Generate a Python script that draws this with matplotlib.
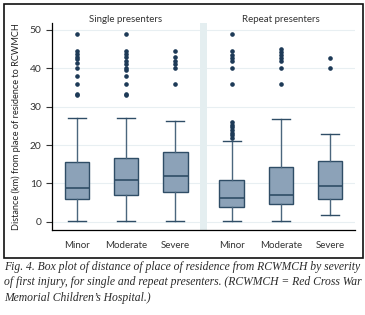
import matplotlib.pyplot as plt
from matplotlib.patches import Rectangle

# severity groups, single presenters then repeat presenters
labels = ['Minor', 'Moderate', 'Severe', 'Minor', 'Moderate', 'Severe']
q1 = [5.9, 7.0, 7.8, 4.0, 4.7, 5.9]
med = [8.9, 10.9, 11.9, 6.1, 7.0, 9.3]
q3 = [15.6, 16.7, 18.1, 10.9, 14.3, 15.9]
whislo = [0.3, 0.3, 0.3, 0.3, 0.3, 1.7]
whishi = [27.0, 27.0, 26.2, 21.0, 26.9, 22.9]
fliers = [
    [33.0, 33.3, 36.0, 38.0, 40.0, 41.5, 42.3, 43.0, 43.8, 44.6, 48.9],
    [33.0, 33.3, 36.0, 38.0, 39.5, 40.2, 41.0, 42.0, 43.0, 43.8, 44.6, 48.9],
    [36.0, 40.0, 41.0, 42.0, 43.0, 44.6],
    [21.8, 22.5, 23.2, 23.9, 24.6, 25.3, 26.0,
     36.0, 40.0, 42.0, 42.8, 43.5, 44.6, 48.9],
    [36.0, 40.0, 42.0, 42.8, 43.5, 44.3, 45.0],
    [40.0, 42.6],
]
panel_titles = ['Single presenters', 'Repeat presenters']

pos = [1, 2, 3, 4.15, 5.15, 6.15]

stats = []
for i in range(len(labels)):
    stats.append(dict(label=labels[i], q1=q1[i], med=med[i], q3=q3[i],
                      whislo=whislo[i], whishi=whishi[i], fliers=fliers[i]))

fig = plt.figure(figsize=(3.65, 3.15), dpi=100)
ax = fig.add_axes([0.1425, 0.27, 0.83, 0.657])

for y in range(0, 51, 10):
    ax.axhline(y, color='#e8eff2', lw=0.8, zorder=0)
ax.axvspan(3.51, 3.64, color='#e4eef0', lw=0, zorder=0.5)

boxc = '#8ca2b8'
edge = '#2f4d66'
ax.bxp(stats, positions=pos, widths=0.5, patch_artist=True,
       boxprops=dict(facecolor=boxc, edgecolor=edge, lw=1.0),
       medianprops=dict(color=edge, lw=1.2),
       whiskerprops=dict(color='#4b667d', lw=1.0),
       capprops=dict(color='#2f4d66', lw=1.0),
       flierprops=dict(marker='o', markersize=2.3, markerfacecolor='#1d3a57',
                       markeredgecolor='#1d3a57'),
       capwidths=0.36)

ax.set_xlim(0.49, 6.66)
ax.set_ylim(-2.1, 51.8)
ax.set_yticks(range(0, 51, 10))
ax.set_xticks(pos)
ax.set_xticklabels(labels)
ax.tick_params(axis='x', length=0, pad=8, labelsize=7, colors='#333333')
ax.tick_params(axis='y', length=4, width=0.8, labelsize=7.4, colors='#333333')
for lab in ax.get_xticklabels() + ax.get_yticklabels():
    lab.set_family('Lato')
ax.spines['top'].set_visible(False)
ax.spines['right'].set_visible(False)
ax.spines['left'].set_linewidth(0.9)
ax.spines['bottom'].set_linewidth(0.9)
ax.set_ylabel('Distance (km) from place of residence to RCWMCH',
              family='Lato', fontsize=6.6, color='#222222', labelpad=6)

fig.text(126 / 365, 1 - 19 / 315, panel_titles[0], ha='center', va='center',
         family='Lato', fontsize=7, color='#333333')
fig.text(281 / 365, 1 - 19 / 315, panel_titles[1], ha='center', va='center',
         family='Lato', fontsize=7, color='#333333')

# frame around figure panel
fig.patches.append(Rectangle((4 / 365, 1 - 258 / 315), 359 / 365, 254 / 315,
                             transform=fig.transFigure, fill=False,
                             edgecolor='#111111', lw=1.2))

caption = ("Fig. 4. Box plot of distance of place of residence from RCWMCH by severity\n"
           "of first injury, for single and repeat presenters. (RCWMCH = Red Cross War\n"
           "Memorial Children\u2019s Hospital.)")
fig.text(4 / 365, 1 - 261 / 315, caption, ha='left', va='top', family='Liberation Serif',
         style='italic', fontsize=8.4, color='#2a2a2a', linespacing=1.38)

fig.savefig('out.png', dpi=100)
